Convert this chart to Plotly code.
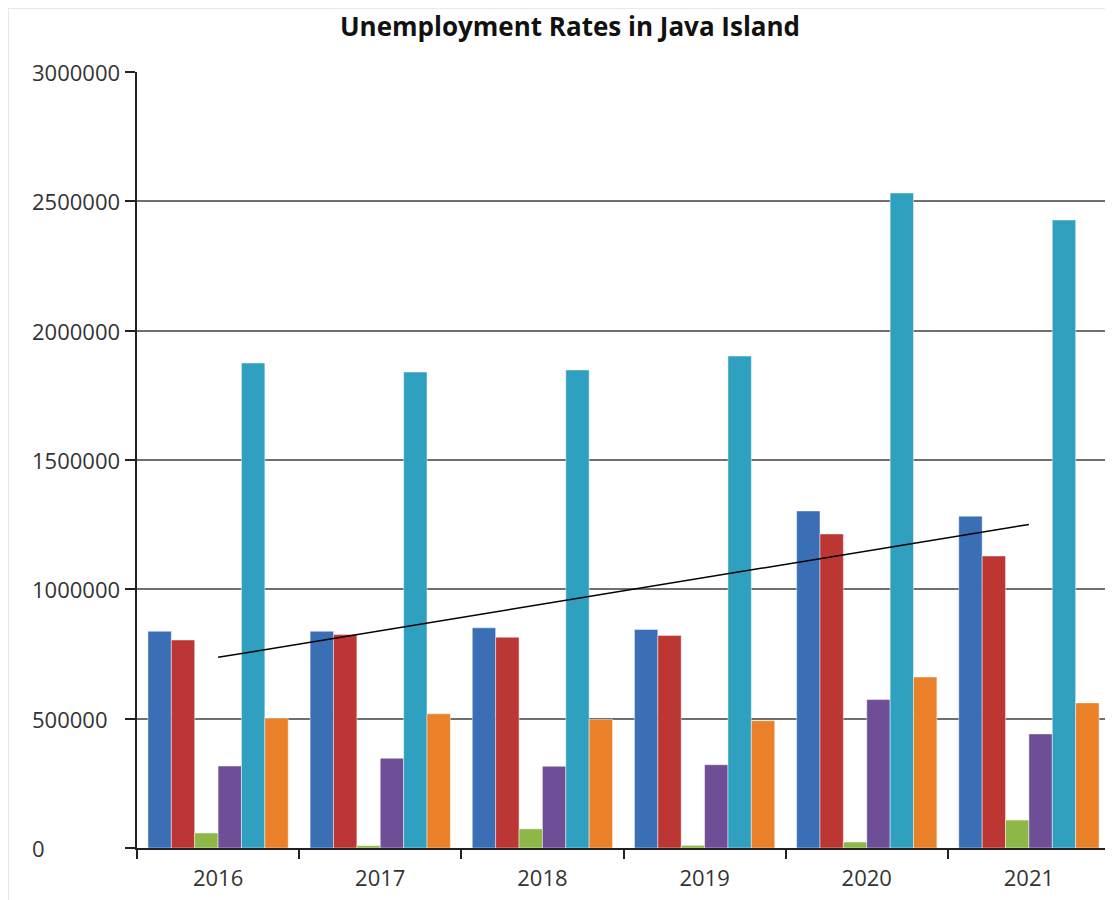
import plotly.graph_objects as go

years = ["2016", "2017", "2018", "2019", "2020", "2021"]

series_a = [838000, 838000, 851000, 845000, 1303000, 1283000]   # blue
series_b = [804000, 825000, 815000, 822000, 1214000, 1129000]   # red
series_c = [58000, 9000, 74000, 10000, 23000, 108000]           # green
series_d = [317000, 347000, 316000, 322000, 574000, 441000]     # purple
series_e = [1875000, 1840000, 1848000, 1902000, 2532000, 2428000]  # cyan
series_f = [502000, 519000, 497000, 492000, 661000, 561000]     # orange

trend_x = ["2016", "2021"]
trend_y = [737000, 1251000]

y_ticks = [0, 500000, 1000000, 1500000, 2000000, 2500000, 3000000]

colors = ["#3A6FB6", "#BC3734", "#8DB847", "#6E4F97", "#30A0C0", "#EA8028"]
all_series = [series_a, series_b, series_c, series_d, series_e, series_f]

W, H = 1113, 900
ML, MR, MT, MB = 129, 11, 64, 60
PW, PH = W - ML - MR, H - MT - MB

fig = go.Figure()
for vals, col in zip(all_series, colors):
    fig.add_trace(go.Bar(
        x=years, y=vals,
        marker=dict(color=col, line=dict(color="rgba(255,255,255,0.45)", width=1)),
        showlegend=False,
    ))

fig.add_trace(go.Scatter(
    x=trend_x, y=trend_y, mode="lines",
    line=dict(color="black", width=1.5), showlegend=False,
))

# left-aligned y tick labels
annotations = [
    dict(text=str(v), x=(22 - ML) / PW, xref="paper", y=v, yref="y",
         xanchor="left", yanchor="middle", showarrow=False,
         font=dict(family="Open Sans", size=22, color="#333333"))
    for v in y_ticks
]

fig.update_layout(
    width=W, height=H,
    margin=dict(l=ML, r=MR, t=MT, b=MB),
    paper_bgcolor="white", plot_bgcolor="white",
    barmode="group", bargap=0.135, bargroupgap=0,
    font=dict(family="Open Sans", size=22, color="#333333"),
    title=dict(
        text="<b>Unemployment Rates in Java Island</b>",
        x=562 / W, xanchor="center", y=1 - 19 / H, yanchor="middle",
        font=dict(family="Open Sans", size=26, color="#111111"),
    ),
    xaxis=dict(
        type="category", tickson="boundaries",
        ticks="outside", ticklen=9, tickwidth=1.5, tickcolor="#222222",
        showline=True, linecolor="#222222", linewidth=2,
        showgrid=False, ticklabelstandoff=10,
    ),
    yaxis=dict(
        range=[0, 3000000], tickvals=y_ticks,
        showticklabels=False,
        ticks="outside", ticklen=10, tickwidth=1.5, tickcolor="#222222",
        showline=True, linecolor="#222222", linewidth=2,
        showgrid=True, gridcolor="#6f6f6f", gridwidth=2,
        zeroline=False,
    ),
    annotations=annotations,
    shapes=[
        dict(type="line", xref="x domain", yref="y domain",
             x0=1, x1=1, y0=0, y1=1,
             line=dict(color="#cccccc", width=2)),
        dict(type="rect", xref="paper", yref="paper",
             x0=-ML / PW, x1=(W - ML) / PW,
             y0=-MB / PH, y1=(H - MB) / PH,
             line=dict(color="#e8e8e8", width=2), layer="below"),
    ],
)

fig.write_html("out.html")
